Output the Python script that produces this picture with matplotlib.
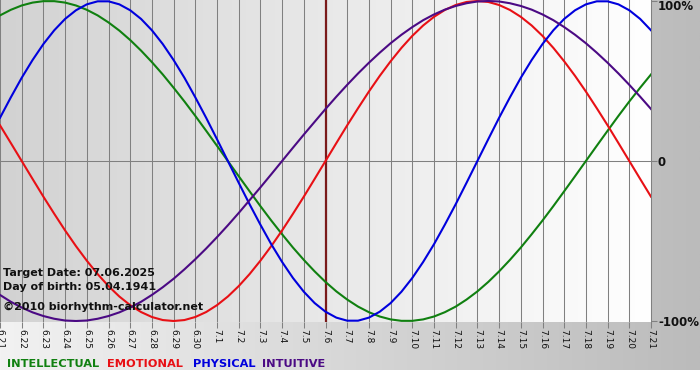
import numpy as np
import matplotlib
matplotlib.use("Agg")
import matplotlib.pyplot as plt
from matplotlib.colors import LinearSegmentedColormap

# ---- data ------------------------------------------------------------------
days = ["6.21", "6.22", "6.23", "6.24", "6.25", "6.26", "6.27", "6.28", "6.29", "6.30",
        "7.1", "7.2", "7.3", "7.4", "7.5", "7.6", "7.7", "7.8", "7.9", "7.10",
        "7.11", "7.12", "7.13", "7.14", "7.15", "7.16", "7.17", "7.18", "7.19", "7.20", "7.21"]
# curve values read every half day, from 6.21 to 7.21 (-1 = -100%, 1 = 100%)
intellectual = [0.910, 0.945, 0.972, 0.990, 0.999, 0.999, 0.990, 0.972, 0.945, 0.910, 0.866,
                0.815, 0.756, 0.690, 0.618, 0.541, 0.458, 0.372, 0.282, 0.189, 0.095, 0.000,
                -0.095, -0.189, -0.282, -0.372, -0.458, -0.541, -0.618, -0.690, -0.756,
                -0.815, -0.866, -0.910, -0.945, -0.972, -0.990, -0.999, -0.999, -0.990,
                -0.972, -0.945, -0.910, -0.866, -0.815, -0.756, -0.690, -0.618, -0.541,
                -0.458, -0.372, -0.282, -0.189, -0.095, 0.000, 0.095, 0.189, 0.282, 0.372,
                0.458, 0.541]
emotional = [0.223, 0.112, 0.000, -0.112, -0.223, -0.330, -0.434, -0.532, -0.623, -0.707,
             -0.782, -0.847, -0.901, -0.944, -0.975, -0.994, -1.000, -0.994, -0.975, -0.944,
             -0.901, -0.847, -0.782, -0.707, -0.623, -0.532, -0.434, -0.330, -0.223, -0.112,
             0.000, 0.112, 0.223, 0.330, 0.434, 0.532, 0.623, 0.707, 0.782, 0.847, 0.901,
             0.944, 0.975, 0.994, 1.000, 0.994, 0.975, 0.944, 0.901, 0.847, 0.782, 0.707,
             0.623, 0.532, 0.434, 0.330, 0.223, 0.112, 0.000, -0.112, -0.223]
physical = [0.270, 0.398, 0.520, 0.631, 0.731, 0.817, 0.888, 0.942, 0.979, 0.998, 0.998,
            0.979, 0.942, 0.888, 0.817, 0.731, 0.631, 0.520, 0.398, 0.270, 0.136, 0.000,
            -0.136, -0.270, -0.398, -0.520, -0.631, -0.731, -0.817, -0.888, -0.942, -0.979,
            -0.998, -0.998, -0.979, -0.942, -0.888, -0.817, -0.731, -0.631, -0.520, -0.398,
            -0.270, -0.136, 0.000, 0.136, 0.270, 0.398, 0.520, 0.631, 0.731, 0.817, 0.888,
            0.942, 0.979, 0.998, 0.998, 0.979, 0.942, 0.888, 0.817]
intuitive = [-0.837, -0.880, -0.916, -0.946, -0.969, -0.986, -0.997, -1.000, -0.997, -0.986,
             -0.969, -0.946, -0.916, -0.880, -0.837, -0.789, -0.736, -0.677, -0.614, -0.547,
             -0.476, -0.402, -0.325, -0.245, -0.165, -0.083, 0.000, 0.083, 0.165, 0.245,
             0.325, 0.402, 0.476, 0.547, 0.614, 0.677, 0.736, 0.789, 0.837, 0.880, 0.916,
             0.946, 0.969, 0.986, 0.997, 1.000, 0.997, 0.986, 0.969, 0.946, 0.916, 0.880,
             0.837, 0.789, 0.736, 0.677, 0.614, 0.547, 0.476, 0.402, 0.325]
target_day = "7.6"
info_lines = ["Target Date: 07.06.2025", "Day of birth: 05.04.1941", "\u00a92010 biorhythm-calculator.net"]
y_labels = ["100%", "0", "-100%"]

series = [("INTELLECTUAL", intellectual, "#108010"),
          ("EMOTIONAL", emotional, "#e81015"),
          ("PHYSICAL", physical, "#0000dd"),
          ("INTUITIVE", intuitive, "#4b0a84")]

W, H = 700, 380
fig = plt.figure(figsize=(W / 100, H / 100), dpi=100, facecolor="white")

# outer gradient background
grad = np.linspace(0, 1, 256)[None, :]
bg = fig.add_axes([0, 0, 1, 1], zorder=0)
bg.imshow(grad, cmap=LinearSegmentedColormap.from_list("outer", ["#f2f2f2", "#bbbbbb"]),
          extent=(0, W, 370, 0), aspect="auto")
bg.set_xlim(0, W); bg.set_ylim(H, 0); bg.axis("off")

# plot area
pw, ph = 651, 322
ylim = 161 / 160
ax = fig.add_axes([0, 1 - ph / H, pw / W, ph / H], zorder=1)
x = np.arange(len(days))
xs = np.linspace(0, len(days) - 1, len(physical))  # half-day positions
ax.imshow(grad, cmap=LinearSegmentedColormap.from_list("inner", ["#d2d2d2", "#ffffff"]),
          extent=(0, len(days) - 1, -ylim, ylim), aspect="auto", zorder=0)
ax.set_xlim(0, len(days) - 1); ax.set_ylim(-ylim, ylim)

ax.set_xticks(x, days)
ax.grid(axis="x", color="#808080", lw=0.75)
ax.tick_params(axis="x", length=4, width=0.75, color="#808080", labelsize=6.5, pad=1,
               labelrotation=-90, labelcolor="#111111")
ax.yaxis.tick_right()
ax.set_yticks([1, 0, -1], ["", "", ""])
ax.tick_params(axis="y", length=4, width=0.75, color="#808080")
for s in ["left", "top", "bottom"]:
    ax.spines[s].set_visible(False)
ax.spines["right"].set_color("#808080"); ax.spines["right"].set_linewidth(0.75)
ax.axhline(0, color="#808080", lw=0.75, zorder=1)
ax.axvline(days.index(target_day), color="#7a1a1a", lw=1.6, zorder=2)

for name, vals, col in series:
    ax.plot(xs, vals, color=col, lw=1.5, zorder=3)

# texts (pixel positions)
def px(xp, yp):
    return xp / W, 1 - yp / H

for line, yb in zip(info_lines, [276, 290, 310]):
    fig.text(*px(3, yb), line, fontsize=8, fontweight="bold", color="#111111", va="baseline")

for lab, yb in zip(y_labels, [10, 166, 326]):
    fig.text(*px(658, yb), lab, fontsize=8.5, fontweight="bold", color="#111111", va="baseline")

for (name, vals, col), xl in zip(series, [7, 107, 193, 262]):
    fig.text(*px(xl, 367), name, fontsize=8.2, fontweight="bold", color=col, va="baseline")

fig.savefig("out.png", dpi=100, facecolor="white")
